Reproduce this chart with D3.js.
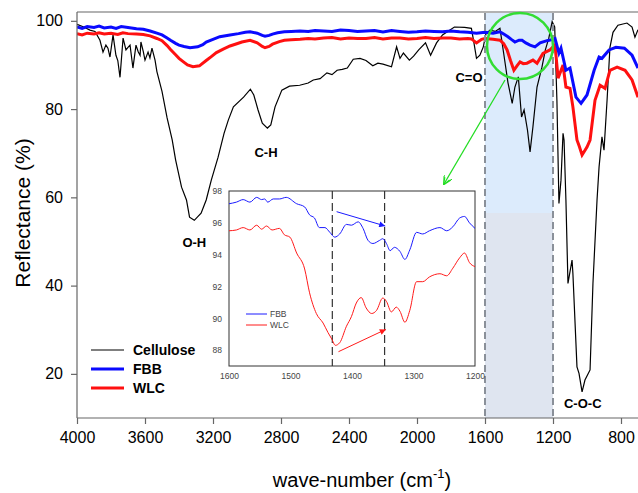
<!DOCTYPE html>
<html>
<head>
<meta charset="utf-8">
<script src="https://cdn.jsdelivr.net/npm/d3@7"></script>
<style>
  body { margin: 0; background: #fff; }
  svg { display: block; font-family: Arial, "Liberation Sans", sans-serif; }
</style>
</head>
<body>
<script>
// spectra: [wave-number, reflectance]
let cellulose = [
  [4000,99.2],[3960,98.6],[3924,97.9],[3894,97.6],[3865,95.6],[3847,92.9],[3830,94.5],[3818,93.8],
  [3806,91.8],[3788,96.8],[3771,92.2],[3760,91],[3747,87.2],[3729,96.1],[3712,93.4],[3700,94],
  [3688,94.5],[3671,89.3],[3653,94.5],[3640,93],[3629,92.2],[3624,95.2],[3610,93],[3600,91.1],
  [3582,92.9],[3571,91.6],[3559,93.8],[3541,91.1],[3530,88.5],[3500,84],[3470,78],[3440,73],
  [3420,68.5],[3385,62.3],[3356,59.4],[3338,55.5],[3310,54.8],[3270,56.4],[3240,59.4],[3210,63.9],
  [3170,69.1],[3135,74.5],[3110,77.5],[3080,80.5],[3020,82.7],[2980,84.5],[2960,83.2],[2935,79.8],
  [2910,76.8],[2880,75.7],[2860,76.4],[2835,80.5],[2795,84.3],[2750,85.2],[2690,85.4],[2640,85.9],
  [2610,86.6],[2570,86.9],[2530,88.2],[2500,87.8],[2470,88.8],[2440,89],[2410,89.3],[2375,91.3],
  [2335,91.5],[2300,91.0],[2260,89.8],[2230,90.4],[2200,90.2],[2150,89.6],[2120,94.1],[2100,91.5],
  [2080,92.7],[2045,91.1],[2020,92],[1990,93.4],[1950,95],[1920,92.2],[1885,95],[1850,96.8],
  [1780,98.6],[1720,98.5],[1680,98.3],[1665,95],[1650,91.5],[1630,92.2],[1610,94.1],[1595,97],
  [1571,97.9],[1540,97.6],[1512,98.3],[1490,92.6],[1465,86],[1440,81.3],[1424,85],[1404,87.3],
  [1385,78.2],[1370,79.8],[1350,75.2],[1335,70.3],[1318,76],[1294,85],[1265,89.5],[1245,93.4],
  [1225,96],[1205,99.8],[1190,98.6],[1177,82],[1165,58.6],[1153,63.9],[1141,74.5],[1135,73],
  [1124,59.4],[1112,40.5],[1088,45.8],[1083,42.8],[1059,21.6],[1047,20.1],[1029,15.9],[1012,18.6],
  [982,20.9],[965,40.5],[941,59.4],[929,66.9],[912,73.7],[900,70.7],[882,82],[865,94],
  [847,97.4],[818,99],[765,99.5],[735,98.6],[718,96.3],[700,98]
]

let fbb = [
  [4000,98.6],[3970,98.3],[3940,98.7],[3900,98.5],[3870,98.8],[3840,98.4],[3800,98.6],[3770,98.3],
  [3740,98.7],[3700,98.5],[3650,98.2],[3610,98.1],[3570,97.7],[3530,97.2],[3500,96.8],[3470,96.1],
  [3450,95.6],[3420,94.9],[3400,94.5],[3370,94.2],[3335,93.9],[3290,94.1],[3260,94.6],[3240,95.2],
  [3200,95.8],[3160,96.4],[3100,96.8],[3050,97.1],[3010,97.4],[2982,97.5],[2940,97.2],[2910,96.7],
  [2894,96.5],[2870,96.7],[2850,97],[2820,97.3],[2780,97.5],[2740,97.6],[2688,97.7],[2640,97.6],
  [2600,97.8],[2550,97.7],[2500,97.6],[2450,97.9],[2400,97.8],[2350,97.6],[2300,97.7],[2250,97.8],
  [2200,97.5],[2150,97.8],[2100,97.6],[2050,97.4],[2000,97.5],[1950,97.7],[1900,97.6],[1850,97.5],
  [1800,97.7],[1750,97.5],[1700,97.4],[1650,97.2],[1600,97.4],[1553,97.2],[1512,97.5],[1490,97],
  [1465,96.4],[1445,95.8],[1424,95.2],[1400,95.6],[1382,95.6],[1360,95],[1335,94.5],[1306,94.1],
  [1276,95],[1235,95.5],[1200,95.8],[1188,96],[1165,92.7],[1153,93.8],[1124,88.8],[1100,89.3],
  [1065,82.7],[1035,81.3],[1000,83.2],[958,88.8],[929,91.8],[912,91.5],[870,93.4],[830,94],
  [780,93.8],[735,92.2],[700,89.3]
]

let wlc = [
  [4000,97.1],[3970,96.8],[3940,97.2],[3900,97.0],[3870,97.3],[3840,97.0],[3800,97.2],[3760,96.9],
  [3730,97.3],[3700,97.1],[3650,97],[3610,96.9],[3570,96.6],[3530,96],[3500,95.5],[3470,94.4],
  [3450,93.5],[3420,92.3],[3400,91.5],[3370,90.6],[3350,90],[3318,89.6],[3280,89.8],[3240,91],
  [3210,91.9],[3180,92.8],[3140,93.6],[3100,94.3],[3060,94.8],[3030,95.2],[2982,95.6],[2940,95],
  [2910,94.2],[2894,93.9],[2870,94.2],[2850,94.7],[2810,95.3],[2780,95.6],[2740,95.7],[2688,95.8],
  [2640,96],[2600,95.9],[2550,96.1],[2500,96.2],[2450,95.9],[2400,96.1],[2350,96],[2300,96],
  [2250,96.2],[2200,95.9],[2150,96.1],[2100,96.1],[2050,95.9],[2000,96],[1950,96.2],[1900,96],
  [1850,96.1],[1800,96.1],[1750,95.9],[1700,96],[1680,95.9],[1650,95],[1620,95.8],[1600,96],
  [1553,95.8],[1512,95.6],[1490,94.8],[1470,93.4],[1450,91],[1430,88.8],[1412,89.8],[1394,90.7],
  [1375,90.3],[1353,90.4],[1318,91.1],[1294,90.4],[1259,92.6],[1218,93.4],[1200,94.1],[1188,94.5],
  [1170,87],[1141,90],[1124,85],[1100,84.7],[1083,80.5],[1059,73],[1045,71.5],[1029,69.6],
  [1000,71.4],[982,73],[953,82],[923,85.4],[894,84.7],[865,88.8],[823,89.5],[776,88.8],
  [735,86.6],[700,82.7]
]

// inset (1600 - 1200 cm-1)
let fbbInset = [
  [1600,97.2],[1588,97.3],[1577,97.46],[1566,97.3],[1555,97.6],[1547,97.46],[1542,97.5],[1537,97.3],
  [1528,97.5],[1518,97.5],[1507,97.6],[1490,97.2],[1477,97.0],[1469,96.5],[1461,96.3],[1453,95.7],
  [1444,95.7],[1436,95.4],[1428,95.1],[1420,95.3],[1409,95.9],[1401,95.85],[1390,96.06],[1382,95.65],
  [1374,94.9],[1366,94.7],[1355,94.9],[1350,95.0],[1344,94.7],[1338,94.25],[1331,94.46],[1322,94.2],
  [1314,93.7],[1306,94.3],[1295,95.4],[1285,95.3],[1274,95.5],[1257,95.7],[1246,95.5],[1236,95.75],
  [1225,96.3],[1217,96.4],[1209,96.0],[1200,95.65]
]
let wlcInset = [
  [1600,95.5],[1588,95.55],[1577,95.7],[1566,95.55],[1555,95.85],[1547,95.6],[1539,95.8],[1530,95.55],
  [1518,95.65],[1510,95.25],[1501,95.1],[1490,94.1],[1477,93.1],[1469,91.6],[1458,90.3],[1447,89.7],
  [1439,89.1],[1433,88.7],[1427,88.3],[1420,88.46],[1409,89.5],[1401,90.1],[1393,90.96],[1385,91.3],
  [1377,90.65],[1368,90.3],[1360,90.5],[1350,91.27],[1344,91.06],[1336,90.4],[1328,90.7],[1322,90.44],
  [1314,89.75],[1306,90.5],[1295,92.3],[1285,92.3],[1274,92.6],[1257,92.8],[1246,92.67],[1236,93.15],
  [1225,93.8],[1217,94.1],[1209,93.5],[1200,93.25]
]

let xTicks = [4000, 3600, 3200, 2800, 2400, 2000, 1600, 1200, 800]
let yTicks = [20, 40, 60, 80, 100]
let insetXTicks = [1600, 1500, 1400, 1300, 1200]
let insetYTicks = [88, 90, 92, 94, 96, 98]
let zoomBand = [1600, 1200]
let insetMarks = [1432, 1347]

let width = 638, height = 493

let svg = d3.select('body').append('svg')
  .attr('width', width)
  .attr('height', height)

let x = d3.scaleLinear().domain([4000, 800]).range([77, 621])
let y = d3.scaleLinear().domain([10, 102]).range([418, 12])

svg.append('defs').append('clipPath').attr('id', 'plot')
  .append('rect').attr('x', 77).attr('y', 12).attr('width', 600).attr('height', 406)

// shaded zoom band
svg.append('rect')
  .attr('x', x(zoomBand[0])).attr('y', 13)
  .attr('width', x(zoomBand[1]) - x(zoomBand[0])).attr('height', 200)
  .attr('fill', '#dcebfc')
svg.append('rect')
  .attr('x', x(zoomBand[0])).attr('y', 213)
  .attr('width', x(zoomBand[1]) - x(zoomBand[0])).attr('height', 205)
  .attr('fill', '#dfe5f0')

let line = d3.line().x(d => x(d[0])).y(d => y(d[1]))
let plot = svg.append('g').attr('clip-path', 'url(#plot)')

plot.append('path').datum(cellulose).attr('d', line)
  .attr('fill', 'none').attr('stroke', '#000').attr('stroke-width', 1.2)
plot.append('path').datum(wlc).attr('d', line)
  .attr('fill', 'none').attr('stroke', '#ff1010').attr('stroke-width', 3)
plot.append('path').datum(fbb).attr('d', line)
  .attr('fill', 'none').attr('stroke', '#0a0aff').attr('stroke-width', 3)

// dashed band edges
svg.selectAll('.band')
  .data(zoomBand)
  .enter().append('line')
  .attr('x1', d => x(d)).attr('x2', d => x(d))
  .attr('y1', 13).attr('y2', 418)
  .attr('stroke', '#8a9099').attr('stroke-width', 2)
  .attr('stroke-dasharray', '7,4')

// axes
let xAxis = svg.append('g')
  .attr('transform', `translate(0, 418)`)
  .call(d3.axisBottom(x).tickValues(xTicks).tickSize(6).tickPadding(8).tickFormat(d3.format('d')))
let yAxis = svg.append('g')
  .attr('transform', `translate(77, 0)`)
  .call(d3.axisLeft(y).tickValues(yTicks).tickSize(6).tickPadding(8))
xAxis.select('.domain').attr('d', 'M77,0H638')
yAxis.select('.domain').attr('d', 'M0,12V418')
svg.selectAll('.domain, .tick line').attr('stroke', '#666').attr('stroke-width', 1.2)
svg.selectAll('.tick text').attr('font-size', 16).attr('fill', '#000')
  .attr('font-family', 'Arial, "Liberation Sans", sans-serif')
svg.append('line').attr('x1', 77).attr('x2', 638).attr('y1', 12).attr('y2', 12)
  .attr('stroke', '#666').attr('stroke-width', 1.2)

// axis labels
let xl = svg.append('text')
  .attr('x', 362).attr('y', 487)
  .attr('text-anchor', 'middle').attr('font-size', 20)
xl.append('tspan').text('wave-number (cm')
xl.append('tspan').text('-1').attr('font-size', 13).attr('dy', -9)
xl.append('tspan').text(')').attr('dy', 9)

svg.append('text')
  .attr('transform', 'translate(30, 213) rotate(-90)')
  .attr('text-anchor', 'middle').attr('font-size', 21)
  .text('Reflectance (%)')

// peak labels
let peaks = [
  { t: 'O-H', w: 3310, v: 48.7 },
  { t: 'C-H', w: 2888, v: 69.1 },
  { t: 'C=O', w: 1694, v: 86.1 },
  { t: 'C-O-C', w: 1025, v: 12.3 }
]
svg.selectAll('.peak')
  .data(peaks)
  .enter().append('text')
  .attr('x', d => x(d.w)).attr('y', d => y(d.v))
  .attr('text-anchor', 'middle').attr('font-size', 13).attr('font-weight', 'bold')
  .text(d => d.t)

// legend
let legend = [
  { name: 'Cellulose', color: '#000', w: 1.2 },
  { name: 'FBB', color: '#0a0aff', w: 3 },
  { name: 'WLC', color: '#ff1010', w: 3 }
]
let lg = svg.selectAll('.lg').data(legend).enter().append('g')
  .attr('transform', (d, i) => `translate(91, ${350 + i * 19})`)
lg.append('line').attr('x1', 0).attr('x2', 33)
  .attr('stroke', d => d.color).attr('stroke-width', d => d.w)
lg.append('text').attr('x', 42).attr('y', 5)
  .attr('font-size', 14).attr('font-weight', 'bold').text(d => d.name)

// green circle and arrow
svg.append('defs').append('marker')
  .attr('id', 'garrow').attr('viewBox', '0 0 10 10')
  .attr('refX', 9).attr('refY', 5)
  .attr('markerWidth', 9).attr('markerHeight', 9).attr('markerUnits', 'userSpaceOnUse')
  .attr('orient', 'auto')
  .append('path').attr('d', 'M0,0L10,5L0,10M2,2L10,5L2,8')
  .attr('fill', 'none').attr('stroke', '#22dd22').attr('stroke-width', 1.3)
svg.append('circle').attr('cx', 520).attr('cy', 46).attr('r', 33)
  .attr('fill', 'none').attr('stroke', '#33dd33').attr('stroke-width', 2.5)
svg.append('line').attr('x1', 505).attr('y1', 80).attr('x2', 444).attr('y2', 184)
  .attr('stroke', '#22dd22').attr('stroke-width', 1.3).attr('marker-end', 'url(#garrow)')

// inset
let ix = d3.scaleLinear().domain([1600, 1200]).range([229, 475])
let iy = d3.scaleLinear().domain([87, 98]).range([366, 191])
let inset = svg.append('g')
inset.append('rect').attr('x', 229).attr('y', 191).attr('width', 246).attr('height', 175)
  .attr('fill', '#fff').attr('stroke', '#333').attr('stroke-width', 1)

inset.selectAll('.mark').data(insetMarks).enter().append('line')
  .attr('x1', d => ix(d)).attr('x2', d => ix(d))
  .attr('y1', 191).attr('y2', 366)
  .attr('stroke', '#333').attr('stroke-width', 1.2).attr('stroke-dasharray', '8,4')

let iline = d3.line().x(d => ix(d[0])).y(d => iy(d[1])).curve(d3.curveMonotoneX)
inset.append('path').datum(fbbInset).attr('d', iline)
  .attr('fill', 'none').attr('stroke', '#1a1aff').attr('stroke-width', 1)
inset.append('path').datum(wlcInset).attr('d', iline)
  .attr('fill', 'none').attr('stroke', '#ff1a1a').attr('stroke-width', 1)

let iax = inset.append('g').attr('transform', 'translate(0, 366)')
  .call(d3.axisBottom(ix).tickValues(insetXTicks).tickSize(0).tickPadding(7).tickFormat(d3.format('d')))
let iay = inset.append('g').attr('transform', 'translate(229, 0)')
  .call(d3.axisLeft(iy).tickValues(insetYTicks).tickSize(0).tickPadding(7))
inset.selectAll('.domain').remove()
inset.selectAll('.tick text').attr('font-size', 8.5).attr('fill', '#444')
  .attr('font-family', 'Arial, "Liberation Sans", sans-serif')

// inset arrows
let defs = svg.select('defs')
let arrowColors = { b: '#1a1aff', r: '#ff1a1a' }
Object.entries(arrowColors).forEach(([k, c]) => {
  defs.append('marker').attr('id', 'ia' + k).attr('viewBox', '0 0 10 10')
    .attr('refX', 10).attr('refY', 5)
    .attr('markerWidth', 7).attr('markerHeight', 6).attr('markerUnits', 'userSpaceOnUse')
    .attr('orient', 'auto')
    .append('path').attr('d', 'M0,0L10,5L0,10Z').attr('fill', c)
})
inset.append('line')
  .attr('x1', ix(1425)).attr('y1', iy(96.7)).attr('x2', ix(1346)).attr('y2', iy(95.8))
  .attr('stroke', arrowColors.b).attr('stroke-width', 1).attr('marker-end', 'url(#iab)')
inset.append('line')
  .attr('x1', ix(1422)).attr('y1', iy(87.9)).attr('x2', ix(1345)).attr('y2', iy(89.3))
  .attr('stroke', arrowColors.r).attr('stroke-width', 1).attr('marker-end', 'url(#iar)')

// inset legend
let ilg = inset.selectAll('.ilg').data([['FBB', '#1a1aff'], ['WLC', '#ff1a1a']])
  .enter().append('g')
  .attr('transform', (d, i) => `translate(246, ${314 + i * 11})`)
ilg.append('line').attr('x1', 0).attr('x2', 21).attr('stroke', d => d[1]).attr('stroke-width', 1)
ilg.append('text').attr('x', 24).attr('y', 3).attr('font-size', 8.5).attr('fill', '#444')
  .text(d => d[0])
</script>
</body>
</html>
